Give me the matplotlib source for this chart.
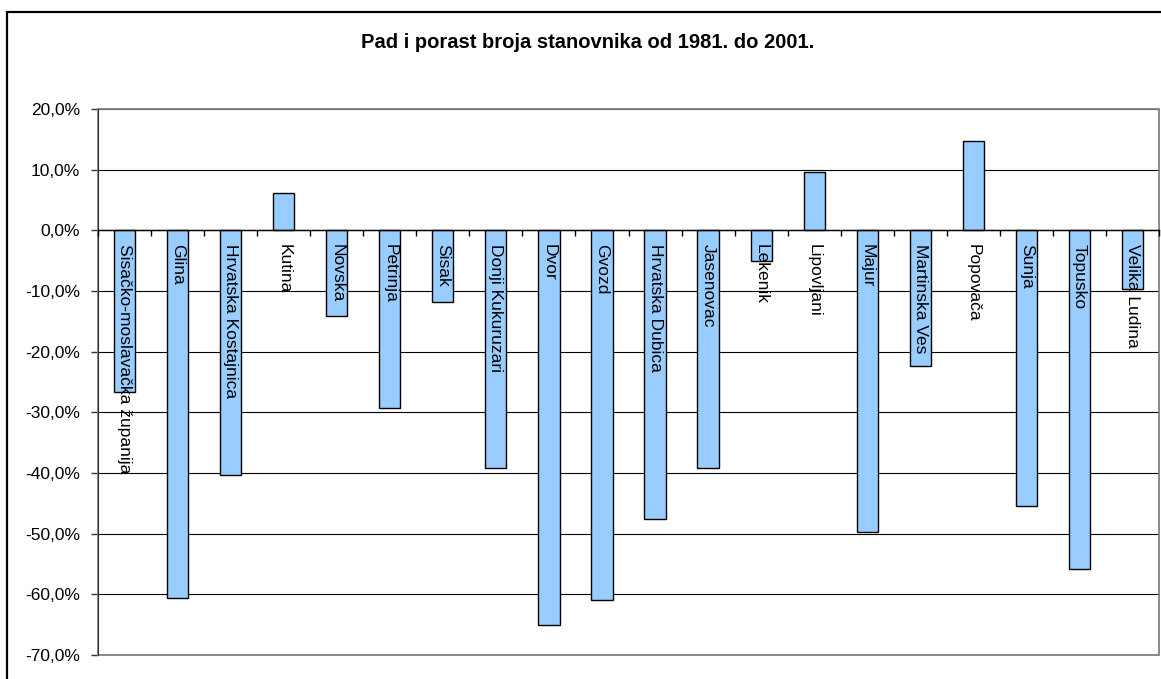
import numpy as np
import matplotlib
matplotlib.use("Agg")
import matplotlib.pyplot as plt
from matplotlib.patches import Rectangle
from matplotlib.ticker import FuncFormatter

# population change 1981-2001, percent
towns = [
    "Sisačko-moslavačka županija", "Glina", "Hrvatska Kostajnica", "Kutina",
    "Novska", "Petrinja", "Sisak", "Donji Kukuruzari", "Dvor", "Gvozd",
    "Hrvatska Dubica", "Jasenovac", "Lekenik", "Lipovljani", "Majur",
    "Martinska Ves", "Popovača", "Sunja", "Topusko", "Velika Ludina",
]
change_pct = [
    -26.6, -60.6, -40.4, 6.2, -14.1, -29.3, -11.8, -39.2, -65.0, -60.9,
    -47.6, -39.2, -5.1, 9.6, -49.8, -22.3, 14.8, -45.4, -55.8, -9.7,
]
y_ticks = [-70, -60, -50, -40, -30, -20, -10, 0, 10, 20]
title = "Pad i porast broja stanovnika od 1981. do 2001."

W, H = 1161, 679
plt.rcParams['font.family'] = ['Liberation Sans', 'DejaVu Sans']

fig = plt.figure(figsize=(W / 100, H / 100), dpi=100)
ax = fig.add_axes([98 / W, 1 - 655 / H, (1159 - 98) / W, (655 - 109) / H])

x = np.arange(len(towns))
ax.bar(x, change_pct, width=0.4, color='#99CCFF', edgecolor='black',
       linewidth=1.0, zorder=2)

ax.set_xlim(-0.5, len(towns) - 0.5)
ax.set_ylim(min(y_ticks), max(y_ticks))

# y axis
ax.set_yticks(y_ticks)
ax.yaxis.set_major_formatter(FuncFormatter(lambda v, p: f"{v:.1f}%".replace('.', ',')))
ax.tick_params(axis='y', length=5, width=1, color='#333333', pad=8, labelsize=12.5)
ax.yaxis.grid(True, color='black', linewidth=0.8)

# x axis sits on 0 line, labels hang down from it
ax.spines['bottom'].set_position(('data', 0))
ax.spines['bottom'].set_linewidth(1.0)
ax.set_xticks(x)
ax.set_xticklabels(towns, rotation=-90, ha='center', va='top', fontsize=12.5)
ax.set_xticks(np.arange(-0.5, len(towns), 1), minor=True)
ax.tick_params(axis='x', which='major', length=0, pad=10)
ax.tick_params(axis='x', which='minor', length=4.5, width=1, direction='out')

ax.set_axisbelow(True)
ax.xaxis.set_zorder(3)

ax.spines['left'].set_color('#333333')
ax.spines['top'].set_visible(False)
ax.spines['right'].set_visible(False)
ax.add_patch(Rectangle((0, 0), 1, 1, transform=ax.transAxes, fill=False,
                       edgecolor='#808080', linewidth=1.3, clip_on=False, zorder=1))

# outer chart border and title
fig.patches.append(Rectangle((7 / W, -0.1), 1.2, 1.1 - 12 / H, transform=fig.transFigure,
                             fill=False, edgecolor='black', linewidth=1.6))
fig.text(588 / W, 1 - 43 / H, title, ha='center', va='center',
         fontsize=14.5, fontweight='bold')

fig.savefig("out.png", dpi=100)
